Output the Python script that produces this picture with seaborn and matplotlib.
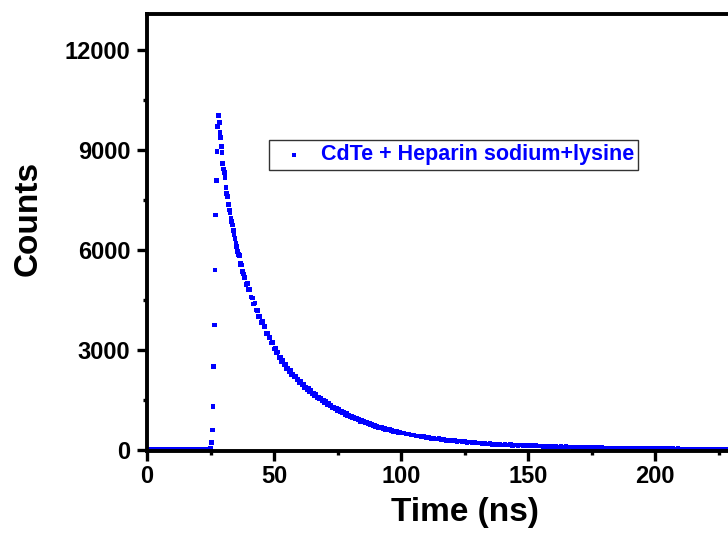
import matplotlib
matplotlib.use("Agg")
import matplotlib.pyplot as plt
import seaborn as sns
import pandas as pd
from matplotlib.ticker import MultipleLocator

# ---- data (time in ns, counts) ----
base_t = [0.0, 0.5, 1.0, 1.5, 2.0, 2.5, 3.0, 3.5, 4.0, 4.5, 5.0, 5.5, 6.0, 6.5, 7.0, 7.5,
          8.0, 8.5, 9.0, 9.5, 10.0, 10.5, 11.0, 11.5, 12.0, 12.5, 13.0, 13.5, 14.0, 14.5,
          15.0, 15.5, 16.0, 16.5, 17.0, 17.5, 18.0, 18.5, 19.0, 19.5, 20.0, 20.5, 21.0,
          21.5, 22.0, 22.5, 23.0, 23.5, 24.0, 24.5, 25.0]
base_c = [28, 22, 31, 25, 19, 27, 33, 24, 21, 29, 26, 30, 23, 18, 27, 32, 25, 22, 28, 24,
          31, 26, 20, 29, 25, 27, 23, 30, 21, 26, 28, 24, 33, 22, 25, 29, 27, 19, 26, 31,
          24, 28, 22, 27, 25, 30, 23, 26, 29, 34, 41]

rise_t = [25.4, 25.7, 26.0, 26.2, 26.5, 26.8, 27.0, 27.3, 27.5, 27.8, 28.1]
rise_c = [220, 600, 1300, 2500, 3750, 5400, 7050, 8080, 8950, 9700, 10030]

peak_t = [28.5, 28.7, 29.0, 29.4, 29.6, 29.8, 30.2, 30.4, 30.7, 31.1, 31.4, 31.6, 32.0,
          32.4, 32.7, 33.0, 33.3, 33.7, 34.0, 34.3, 34.6, 35.0, 35.3, 35.7, 36.0, 36.3,
          36.6, 36.9, 37.2, 37.6, 37.9, 38.2]
peak_c = [9820, 9530, 9370, 9100, 8930, 8600, 8430, 8320, 8170, 7880, 7700, 7600, 7370,
          7200, 7130, 6960, 6850, 6750, 6580, 6450, 6350, 6200, 6100, 5950, 5870, 5830,
          5550, 5600, 5550, 5350, 5280, 5200]

mid_t = [38.5, 39.0, 39.5, 40.0, 40.5, 41.0, 41.5, 42.0, 42.5, 43.0, 43.5, 44.0, 44.5,
         45.0, 45.5, 46.0, 46.5, 47.0, 47.5, 48.0, 48.5, 49.0, 49.5, 50.0, 50.5, 51.0,
         51.5, 52.0, 52.5, 53.0, 53.5, 54.0, 54.5, 55.0, 55.5, 56.0, 56.5, 57.0, 57.5,
         58.0, 58.5, 59.0, 59.5, 60.0, 60.5, 61.0, 61.5, 62.0, 62.5, 63.0, 63.5, 64.0,
         64.5, 65.0, 65.5, 66.0, 66.5, 67.0, 67.5, 68.0, 68.5, 69.0, 69.5, 70.0, 70.5,
         71.0, 71.5, 72.0, 72.5, 73.0, 73.5, 74.0, 74.5, 75.0, 75.5, 76.0, 76.5, 77.0,
         77.5, 78.0, 78.5, 79.0, 79.5, 80.0, 80.5, 81.0, 81.5, 82.0, 82.5, 83.0, 83.5,
         84.0, 84.5, 85.0, 85.5, 86.0, 86.5, 87.0, 87.5, 88.0, 88.5, 89.0, 89.5, 90.0,
         90.5, 91.0, 91.5, 92.0, 92.5, 93.0, 93.5, 94.0, 94.5, 95.0, 95.5, 96.0, 96.5,
         97.0, 97.5, 98.0, 98.5, 99.0, 99.5, 100.0]
mid_c = [5180, 4970, 5000, 4810, 4820, 4590, 4560, 4380, 4410, 4200, 4180, 4000, 4000,
         3820, 3850, 3700, 3700, 3490, 3500, 3360, 3370, 3210, 3220, 3030, 3055, 2920,
         2945, 2780, 2790, 2650, 2680, 2560, 2580, 2440, 2455, 2360, 2385, 2250, 2285,
         2190, 2210, 2100, 2125, 2020, 2050, 1960, 1985, 1880, 1895, 1810, 1840, 1760,
         1780, 1690, 1710, 1640, 1660, 1570, 1595, 1530, 1555, 1470, 1495, 1430, 1455,
         1370, 1395, 1330, 1350, 1275, 1295, 1230, 1255, 1185, 1210, 1155, 1175, 1110,
         1125, 1070, 1095, 1030, 1045, 990, 1015, 960, 977, 925, 948, 895, 915,
         860, 880, 835, 855, 805, 820, 775, 793, 750, 767, 725, 743, 700,
         717, 675, 690, 655, 672, 638, 652, 618, 632, 598, 612, 578, 590,
         560, 574, 545, 558, 528, 540, 510]

tail_t = [101, 102, 103, 104, 105, 106, 107, 108, 109, 110, 111, 112, 113, 114, 115, 116,
          117, 118, 119, 120, 121, 122, 123, 124, 125, 126, 127, 128, 129, 130, 131, 132,
          133, 134, 135, 136, 137, 138, 139, 140, 141, 142, 143, 144, 145, 146, 147, 148,
          149, 150, 151, 152, 153, 154, 155, 156, 157, 158, 159, 160, 161, 162, 163, 164,
          165, 166, 167, 168, 169, 170, 171, 172, 173, 174, 175, 176, 177, 178, 179, 180,
          181, 182, 183, 184, 185, 186, 187, 188, 189, 190, 191, 192, 193, 194, 195, 196,
          197, 198, 199, 200, 201, 202, 203, 204, 205, 206, 207, 208, 209, 210, 211, 212,
          213, 214, 215, 216, 217, 218, 219, 220, 221, 222, 223, 224, 225, 226, 227, 228]
tail_c = [515, 482, 483, 452, 452, 422, 425, 398, 399, 372, 377, 353, 357, 333, 337, 313,
          316, 294, 298, 279, 283, 264, 268, 249, 254, 234, 238, 219, 224, 206, 211, 194,
          200, 185, 190, 174, 180, 165, 170, 155, 162, 149, 156, 143, 150, 138, 146, 134,
          142, 130, 137, 124, 131, 118, 125, 112, 119, 106, 113, 100, 107, 95, 103, 91,
          99, 86, 93, 80, 87, 75, 83, 71, 79, 67, 75, 63, 71, 59, 67, 55,
          64, 53, 61, 50, 59, 47, 56, 45, 54, 43, 52, 41, 50, 39, 48, 37,
          46, 35, 44, 33, 42, 31, 41, 30, 39, 28, 38, 27, 36, 25, 35, 24,
          34, 23, 33, 22, 32, 21, 31, 20, 30, 19, 29, 18, 28, 17, 27, 16]

series_label = "CdTe + Heparin sodium+lysine"
x_label = "Time (ns)"
y_label = "Counts"
x_ticks = [0, 50, 100, 150, 200]
y_ticks = [0, 3000, 6000, 9000, 12000]

df = pd.DataFrame({
    "time": base_t + rise_t + peak_t + mid_t + tail_t,
    "counts": base_c + rise_c + peak_c + mid_c + tail_c,
})

# ---- figure ----
sns.set_style("ticks")
plt.rcParams["font.family"] = ["Liberation Sans", "DejaVu Sans"]
plt.rcParams["font.weight"] = "bold"
plt.rcParams["text.color"] = "black"
plt.rcParams["axes.labelcolor"] = "black"
plt.rcParams["xtick.color"] = "black"
plt.rcParams["ytick.color"] = "black"

W, H = 728, 533
fig = plt.figure(figsize=(W / 100, H / 100), dpi=100)
px_per_ns = 2.54
x_max = 250
left_px, top_px, bottom_px = 147, 14, 451
ax = fig.add_axes([left_px / W, 1 - bottom_px / H,
                   x_max * px_per_ns / W, (bottom_px - top_px) / H])

sns.scatterplot(data=df, x="time", y="counts", ax=ax, marker="s", s=11,
                color="#0000FF", edgecolor="none", linewidth=0, label=series_label)

ax.set_xlim(0, x_max)
ax.set_ylim(-30, 13080)
ax.set_xticks(x_ticks)
ax.set_yticks(y_ticks)
ax.xaxis.set_minor_locator(MultipleLocator(25))
ax.yaxis.set_minor_locator(MultipleLocator(1500))

for s in ["left", "bottom", "top", "right"]:
    ax.spines[s].set_linewidth(2.8)
    ax.spines[s].set_color("black")

ax.tick_params(axis="both", which="major", direction="out", length=7, width=2.4,
               labelsize=17, pad=3, colors="black", labelcolor="black")
ax.tick_params(axis="y", which="major", pad=5)
ax.tick_params(axis="both", which="minor", direction="out", length=3, width=2.4,
               colors="black")
ax.tick_params(top=False, right=False, which="both")
for lab in ax.get_xticklabels() + ax.get_yticklabels():
    lab.set_fontweight("bold")
    lab.set_color("black")

ax.set_xlabel(x_label, fontsize=24, fontweight="bold", va="center", color="black")
ax.set_ylabel(y_label, fontsize=24, fontweight="bold", va="center", color="black")
ax.xaxis.set_label_coords(465 / W, 1 - 513 / H, transform=fig.transFigure)
ax.yaxis.set_label_coords(28 / W, 1 - 218 / H, transform=fig.transFigure)

leg = ax.legend(loc="upper left", bbox_to_anchor=(269 / W, 1 - 140 / H),
                bbox_transform=fig.transFigure, frameon=True, fancybox=False,
                borderpad=0.2, handlelength=1.95, handletextpad=0.25,
                borderaxespad=0, fontsize=15.5, markerscale=0.9)
leg.get_frame().set_edgecolor("black")
leg.get_frame().set_linewidth(1.0)
for t in leg.get_texts():
    t.set_color("#0000FF")
    t.set_fontweight("bold")

fig.savefig("out.png", dpi=100)
